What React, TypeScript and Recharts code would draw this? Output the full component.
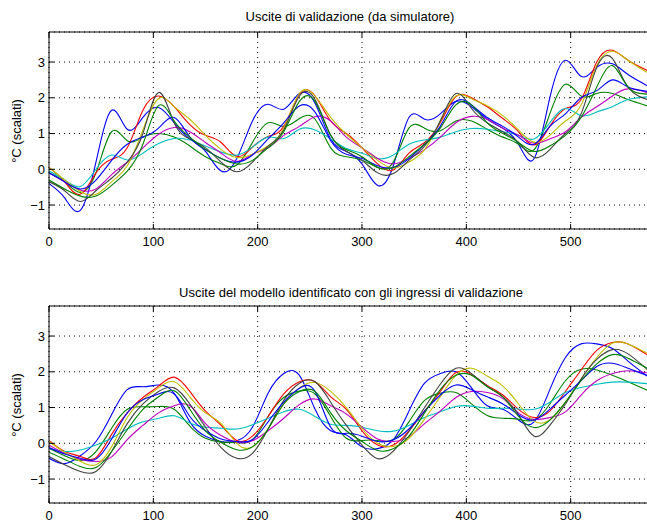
import { LineChart, Line, XAxis, YAxis, CartesianGrid, ReferenceLine } from 'recharts'

// sample positions shared by every trace (last one sits on the right edge)
const xs = [0, 15, 30, 45, 60, 75, 90, 105, 120, 135, 150, 165, 180, 195, 210, 225, 240, 255, 270, 285, 300, 315, 330, 345, 360, 375, 390, 405, 420, 435, 450, 465, 480, 495, 510, 525, 540, 555, 576]

const xTicks = [0, 100, 200, 300, 400, 500]
const yTicks = [-1, 0, 1, 2, 3]

const topTitle = 'Uscite di validazione (da simulatore)'
const bottomTitle = 'Uscite del modello identificato con gli ingressi di validazione'
const yLabel = '°C (scalati)'

// --- upper panel: simulator outputs ---
const topBlue1 = [-0.4, -0.8, -1.15, 0.2, 1.65, 1.12, 1.45, 1.73, 1.3, 0.85, 0.5, -0.05, 0.3, 1.35, 1.82, 1.68, 2.12, 1.85, 0.85, 0.5, 0.15, -0.45, 0.1, 1.45, 1.4, 1.55, 1.9, 1.75, 1.4, 1.15, 0.7, 0.3, 2.0, 3.05, 2.6, 2.85, 2.95, 2.65, 2.3]
const topGreenA = [-0.1, -0.35, -0.65, -0.1, 1.05, 0.8, 0.9, 1.0, 0.9, 0.65, 0.35, 0.15, 0.12, 0.75, 1.3, 1.2, 1.42, 1.4, 0.6, 0.35, 0.25, 0.05, 0.2, 1.15, 1.15, 1.08, 1.35, 1.35, 1.12, 0.9, 0.7, 0.55, 1.55, 2.38, 2.05, 2.12, 2.12, 1.95, 1.75]
const topRed = [0.05, -0.35, -0.7, -0.1, 0.28, 0.6, 1.65, 2.05, 1.75, 1.25, 0.95, 0.75, 0.36, 0.62, 0.92, 1.2, 2.1, 2.05, 1.35, 1.0, 0.6, 0.15, -0.02, 0.45, 0.75, 1.3, 2.03, 2.0, 1.75, 1.42, 1.05, 0.68, 1.2, 1.7, 1.95, 3.0, 3.33, 3.05, 2.73]
const topCyan = [-0.05, -0.3, -0.48, 0.0, 0.4, 0.26, 0.45, 0.72, 0.86, 0.82, 0.65, 0.48, 0.4, 0.62, 0.9, 0.86, 1.12, 1.1, 0.85, 0.58, 0.45, 0.3, 0.4, 0.7, 0.82, 0.9, 1.05, 1.14, 1.12, 1.05, 0.95, 0.85, 1.3, 1.7, 1.5, 1.6, 1.75, 1.95, 2.03]
const topMagenta = [-0.1, -0.35, -0.58, -0.55, -0.15, 0.2, 0.6, 0.98, 1.17, 1.05, 0.75, 0.45, 0.22, 0.42, 0.6, 0.95, 1.2, 1.47, 1.35, 0.9, 0.6, 0.3, 0.15, 0.3, 0.55, 0.9, 1.3, 1.48, 1.4, 1.15, 0.95, 0.73, 0.85, 1.05, 1.45, 1.75, 2.05, 2.25, 2.12]
const topYellow = [0.05, -0.3, -0.62, -0.7, -0.35, 0.1, 1.1, 1.98, 1.75, 1.4, 0.95, 0.55, 0.33, 0.42, 0.65, 1.15, 2.12, 2.05, 1.45, 0.98, 0.6, 0.25, 0.03, 0.2, 0.55, 1.35, 2.05, 1.97, 1.78, 1.5, 1.1, 0.76, 0.95, 1.35, 1.8, 2.9, 3.3, 3.05, 2.66]
const topBlack = [-0.35, -0.6, -0.9, -0.6, -0.25, 0.2, 1.0, 2.15, 1.3, 0.85, 0.6, 0.2, -0.07, 0.2, 0.65, 1.1, 2.05, 1.95, 0.95, 0.5, 0.25, -0.1, -0.12, 0.25, 0.65, 1.35, 2.12, 1.7, 1.3, 1.05, 0.75, 0.33, 0.55, 1.0, 1.55, 2.85, 3.1, 2.3, 1.93]
const topBlue2 = [-0.1, -0.35, -0.55, -0.3, 0.25, 0.7, 0.9, 1.15, 1.45, 0.9, 0.55, 0.3, 0.2, 0.4, 0.85, 1.3, 1.77, 1.6, 0.8, 0.42, 0.3, 0.1, 0.05, 0.3, 0.7, 1.2, 1.9, 1.8, 1.45, 1.2, 0.9, 0.7, 1.2, 1.55, 2.0, 2.2, 2.5, 2.3, 2.17]
const topGreenB = [-0.3, -0.55, -0.75, -0.75, -0.45, -0.05, 0.7, 1.78, 1.35, 0.9, 0.55, 0.3, 0.15, 0.25, 0.6, 1.05, 1.9, 1.9, 0.95, 0.55, 0.35, 0.05, 0.05, 0.35, 0.7, 1.15, 1.8, 1.8, 1.3, 1.0, 0.75, 0.5, 0.65, 0.95, 1.45, 2.3, 2.9, 2.3, 2.1]

// --- lower panel: identified model outputs ---
const botBlue1 = [-0.42, -0.57, -0.35, 0.05, 0.8, 1.5, 1.58, 1.63, 1.4, 0.6, 0.2, 0.05, 0.07, 0.45, 1.4, 1.95, 1.9, 0.95, 0.35, 0.23, -0.1, -0.15, 0.1, 0.9, 1.68, 1.95, 2.0, 1.55, 1.05, 0.95, 0.65, 0.6, 1.5, 2.4, 2.78, 2.78, 2.65, 2.3, 1.82]
const botGreenA = [-0.14, -0.35, -0.48, -0.23, 0.42, 0.95, 1.02, 1.03, 0.95, 0.48, 0.14, 0.03, 0.02, 0.1, 0.75, 1.28, 1.46, 1.38, 0.75, 0.14, 0.08, 0.08, 0.1, 0.6, 1.2, 1.4, 1.42, 1.1, 0.78, 0.7, 0.67, 0.65, 1.1, 1.75, 2.07, 2.05, 1.9, 1.72, 1.45]
const botRed = [0.07, -0.23, -0.37, -0.4, 0.25, 0.85, 1.28, 1.6, 1.85, 1.45, 0.9, 0.5, 0.08, 0.2, 0.75, 1.38, 1.72, 1.72, 1.3, 0.95, 0.35, -0.05, -0.05, 0.35, 0.9, 1.45, 1.98, 1.92, 1.62, 1.35, 0.95, 0.72, 0.9, 1.45, 2.05, 2.6, 2.82, 2.78, 2.43]
const botCyan = [-0.14, -0.23, -0.19, -0.05, 0.14, 0.4, 0.6, 0.7, 0.77, 0.57, 0.45, 0.42, 0.4, 0.52, 0.7, 0.88, 0.95, 0.75, 0.53, 0.5, 0.45, 0.35, 0.34, 0.5, 0.72, 0.88, 1.03, 1.04, 0.98, 0.98, 0.96, 0.95, 1.15, 1.42, 1.56, 1.65, 1.71, 1.71, 1.66]
const botMagenta = [-0.05, -0.28, -0.45, -0.51, -0.38, 0.1, 0.5, 0.85, 1.05, 1.05, 0.55, 0.22, 0.03, 0.07, 0.35, 0.7, 1.08, 1.24, 1.05, 0.82, 0.45, 0.12, 0.05, 0.18, 0.55, 0.9, 1.28, 1.45, 1.42, 1.25, 0.85, 0.67, 0.72, 0.88, 1.35, 1.75, 1.95, 2.03, 1.96]
const botYellow = [0.05, -0.25, -0.5, -0.6, -0.1, 0.72, 1.22, 1.55, 1.72, 1.3, 0.85, 0.55, 0.0, -0.1, 0.4, 1.1, 1.55, 1.7, 1.45, 1.0, 0.42, 0.0, -0.09, 0.14, 0.68, 1.3, 1.9, 2.1, 1.88, 1.6, 1.1, 0.62, 0.65, 1.15, 1.8, 2.4, 2.8, 2.78, 2.48]
const botBlack = [-0.37, -0.6, -0.79, -0.79, -0.23, 0.55, 1.1, 1.45, 1.55, 1.1, 0.45, -0.12, -0.42, -0.28, 0.4, 1.2, 1.68, 1.72, 1.15, 0.5, -0.05, -0.43, -0.22, 0.33, 1.0, 1.65, 2.1, 1.95, 1.6, 1.3, 0.8, 0.2, 0.5, 1.1, 1.8, 2.35, 2.62, 2.5, 2.0]
const botBlue2 = [-0.12, -0.3, -0.42, -0.44, 0.12, 0.85, 1.22, 1.38, 1.38, 0.75, 0.35, 0.12, 0.05, 0.1, 0.6, 1.15, 1.54, 1.45, 0.45, 0.28, 0.2, 0.05, 0.1, 0.4, 0.9, 1.35, 1.63, 1.5, 1.3, 1.1, 0.8, 0.65, 0.95, 1.35, 1.75, 2.15, 2.24, 2.1, 1.87]
const botGreenB = [-0.25, -0.45, -0.65, -0.68, -0.23, 0.38, 0.95, 1.3, 1.47, 0.95, 0.35, 0.02, -0.18, -0.1, 0.4, 1.1, 1.45, 1.45, 0.85, 0.35, 0.05, -0.2, -0.15, 0.2, 0.85, 1.5, 1.9, 1.9, 1.58, 1.3, 0.75, 0.44, 0.65, 1.15, 1.75, 2.22, 2.48, 2.38, 2.06]

// MATLAB default colour order (b g r c m y k, then wraps)
const COLORS = ['#0000ff', '#008000', '#ff0000', '#00bfbf', '#bf00bf', '#bfbf00', '#404040', '#0000ff', '#008000']

const X_MAX = 577
const Y_MIN = -1.67
const Y_MAX = 3.84

const CHART_W = 651
const CHART_H = 250
const PLOT_LEFT = 49
const PLOT_TOP = 32
const PLOT_BOTTOM = 229
const FONT = '"Liberation Sans", Arial, Helvetica, sans-serif'

function buildRows(series: number[][]) {
  return xs.map((x, i) => {
    const row: Record<string, number> = { x }
    series.forEach((s, k) => { row['s' + k] = s[i] })
    return row
  })
}

function XTick({ x, payload }: any) {
  return (
    <g>
      <line x1={x} x2={x} y1={PLOT_BOTTOM} y2={PLOT_BOTTOM - 5} stroke="#000" />
      <line x1={x} x2={x} y1={PLOT_TOP} y2={PLOT_TOP + 5} stroke="#000" />
      <text x={x} y={PLOT_BOTTOM + 8} dy="0.71em" textAnchor="middle" fontSize={13} fontFamily={FONT} fill="#000">
        {payload.value}
      </text>
    </g>
  )
}

function YTick({ y, payload }: any) {
  const label = String(payload.value).replace('-', '\u2212')
  return (
    <g>
      <line x1={PLOT_LEFT} x2={PLOT_LEFT + 5} y1={y} y2={y} stroke="#000" />
      <text x={PLOT_LEFT - 4} y={y} dy="0.35em" textAnchor="end" fontSize={13} fontFamily={FONT} fill="#000">
        {label}
      </text>
    </g>
  )
}

function Panel({ series }: { series: number[][] }) {
  const rows = buildRows(series)
  return (
    <LineChart width={CHART_W} height={CHART_H} data={rows} margin={{ top: PLOT_TOP, right: 0, bottom: 0, left: 0 }}>
      <CartesianGrid stroke="#000" strokeDasharray="1 4" strokeWidth={1} />
      <XAxis
        dataKey="x"
        type="number"
        domain={[0, X_MAX]}
        ticks={xTicks}
        allowDataOverflow
        height={CHART_H - PLOT_BOTTOM}
        tickLine={false}
        axisLine={{ stroke: '#000' }}
        tick={<XTick />}
      />
      <YAxis
        type="number"
        domain={[Y_MIN, Y_MAX]}
        ticks={yTicks}
        allowDataOverflow
        width={PLOT_LEFT}
        tickLine={false}
        axisLine={{ stroke: '#000' }}
        tick={<YTick />}
      />
      <ReferenceLine y={Y_MAX} stroke="#000" />
      {series.map((_, k) => (
        <Line
          key={k}
          dataKey={'s' + k}
          type="natural"
          stroke={COLORS[k]}
          strokeWidth={1.1}
          dot={false}
          isAnimationActive={false}
        />
      ))}
    </LineChart>
  )
}

export default function App() {
  const top = [topBlue1, topGreenA, topRed, topCyan, topMagenta, topYellow, topBlack, topBlue2, topGreenB]
  const bottom = [botBlue1, botGreenA, botRed, botCyan, botMagenta, botYellow, botBlack, botBlue2, botGreenB]
  const textStyle = { fontFamily: FONT, fontSize: 13, fill: '#000' }
  return (
    <div style={{ position: 'absolute', left: 0, top: 0, width: 647, height: 523, overflow: 'hidden', background: '#fff' }}>
      <div style={{ position: 'absolute', left: 0, top: 0 }}>
        <Panel series={top} />
      </div>
      <div style={{ position: 'absolute', left: 0, top: 274 }}>
        <Panel series={bottom} />
      </div>
      <svg width={647} height={523} style={{ position: 'absolute', left: 0, top: 0, pointerEvents: 'none' }}>
        <text x={350} y={21} textAnchor="middle" {...textStyle}>{topTitle}</text>
        <text x={351} y={297} textAnchor="middle" {...textStyle}>{bottomTitle}</text>
        <text transform="translate(16,131) rotate(-90)" textAnchor="middle" dy="0.35em" {...textStyle}>{yLabel}</text>
        <text transform="translate(16,405) rotate(-90)" textAnchor="middle" dy="0.35em" {...textStyle}>{yLabel}</text>
      </svg>
    </div>
  )
}
